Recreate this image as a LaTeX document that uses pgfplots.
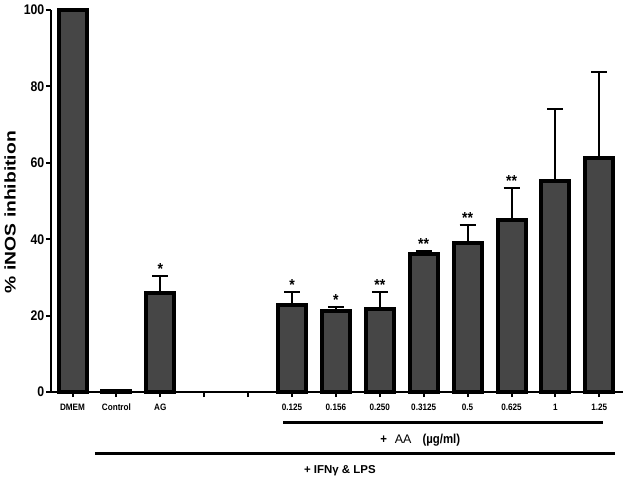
\documentclass[border=0pt]{standalone}
\usepackage{fontspec}
\setmainfont{Liberation Sans}[FakeStretch=0.88]
\newfontfamily\ylabfont{Liberation Sans}[FakeStretch=1.25]
\newfontfamily\widefont{Liberation Sans}
\usepackage{pgfplots}
\pgfplotsset{compat=1.18}
\definecolor{barfill}{HTML}{464646}

\begin{document}
\begin{tikzpicture}
\path[use as bounding box] (-51bp,-88bp) rectangle (576bp,392bp);
\begin{axis}[
  scale only axis, width=572bp, height=382bp,
  xmin=-0.49, xmax=12.54, ymin=0, ymax=100,
  axis x line*=bottom, axis y line*=left,
  axis line style={line width=2bp},
  xtick={0,...,12},
  xticklabels={DMEM,Control,AG,,,0.125,0.156,0.250,0.3125,0.5,0.625,1,1.25},
  ytick={0,20,40,60,80,100},
  tick align=outside, major tick length=5bp,
  tick style={line width=2bp, black},
  xticklabel style={font=\bfseries\fontsize{9.3}{10}\selectfont, inner sep=1bp, yshift=-6bp},
  yticklabel style={font=\bfseries\fontsize{14}{14}\selectfont, inner sep=1.5bp},
  /pgf/number format/assume math mode=true,
  ylabel={\ylabfont\bfseries\fontsize{15.5}{16}\selectfont \% iNOS inhibition},
  every axis y label/.style={at={(rel axis cs:0,0.471)}, xshift=-41bp, rotate=90, anchor=center},
  clip=false,
]
% bars without error
\addplot[ybar, bar width=28bp, fill=barfill, draw=black, line width=4bp]
  coordinates {(0,100) (1,0.3)};
% bars with SEM (upper only)
\addplot[ybar, bar width=28bp, fill=barfill, draw=black, line width=4bp,
  error bars/.cd, y dir=plus, y explicit,
  error bar style={line width=2bp, black},
  error mark options={rotate=90, line width=2bp, mark size=8bp, black}]
  coordinates {
  (2,25.8) +- (0,4.5)
  (5,22.9) +- (0,3.3)
  (6,21.2) +- (0,1.1)
  (7,21.6) +- (0,4.7)
  (8,36.0) +- (0,0.9)
  (9,39.0) +- (0,4.8)
  (10,44.9) +- (0,8.6)
  (11,55.2) +- (0,19.0)
  (12,61.3) +- (0,22.5)
};
\addplot[draw=none, nodes near coords, point meta=explicit symbolic,
  nodes near coords style={font=\bfseries\fontsize{16}{16}\selectfont, anchor=base, inner sep=0pt, yshift=1.5bp}]
  coordinates {
  (2,30.3) [*]
  (5,26.2) [*]
  (6,22.3) [*]
  (7,26.3) [**]
  (8,36.9) [**]
  (9,43.8) [**]
  (10,53.5) [**]
};
\draw[line width=3bp] (axis cs:4.80,-8.1) -- (axis cs:12.08,-8.1);
\draw[line width=3bp] (axis cs:0.51,-16.2) -- (axis cs:12.36,-16.2);
\node[anchor=center] at (axis cs:7.92,-12.6)
  {\bfseries\fontsize{13}{14}\selectfont +\hspace{8bp}{\mdseries\widefont\fontsize{12.5}{14}\selectfont AA}\hspace{11bp}(µg/ml)};
\node[anchor=center] at (axis cs:6.09,-20.7)
  {\widefont\bfseries\fontsize{11.5}{12}\selectfont + IFNγ \& LPS};
\end{axis}
\end{tikzpicture}
\end{document}
